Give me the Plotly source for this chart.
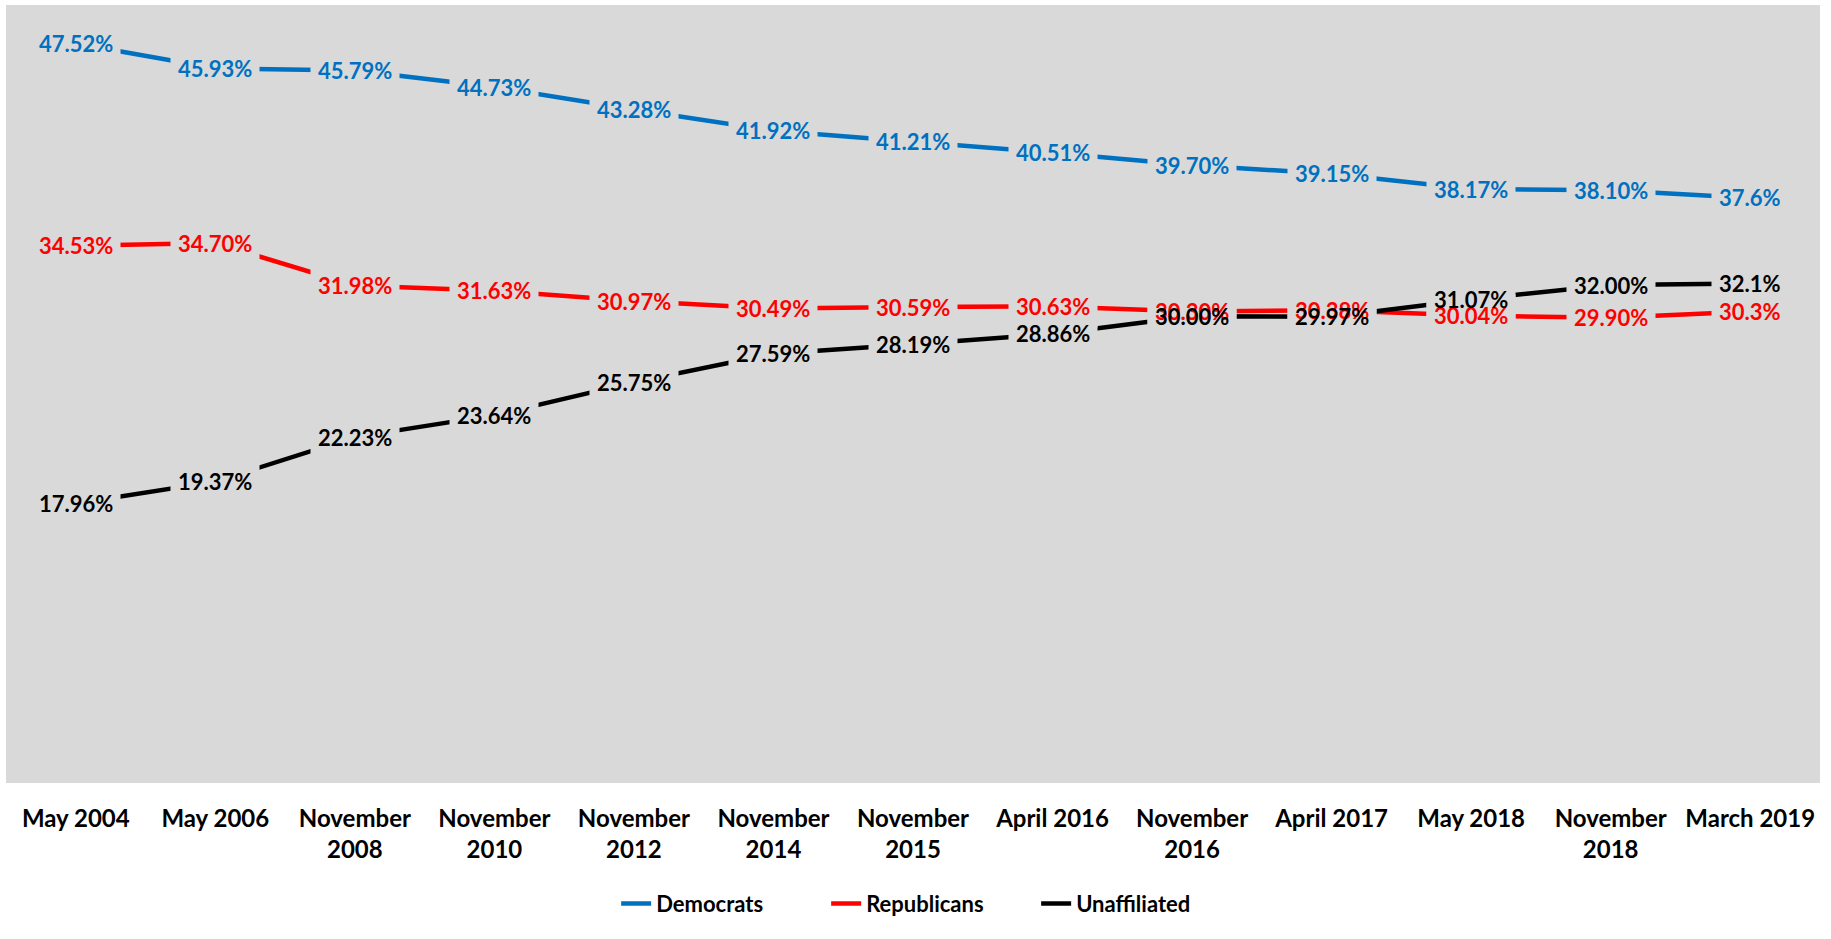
import plotly.graph_objects as go

categories = ["May 2004", "May 2006", "November<br>2008", "November<br>2010",
              "November<br>2012", "November<br>2014", "November<br>2015",
              "April 2016", "November<br>2016", "April 2017", "May 2018",
              "November<br>2018", "March 2019"]

democrats = [47.52, 45.93, 45.79, 44.73, 43.28, 41.92, 41.21, 40.51, 39.70, 39.15, 38.17, 38.10, 37.6]
republicans = [34.53, 34.70, 31.98, 31.63, 30.97, 30.49, 30.59, 30.63, 30.30, 30.38, 30.04, 29.90, 30.3]
unaffiliated = [17.96, 19.37, 22.23, 23.64, 25.75, 27.59, 28.19, 28.86, 30.00, 29.97, 31.07, 32.00, 32.1]
label_decimals = [2, 2, 2, 2, 2, 2, 2, 2, 2, 2, 2, 2, 1]

series = [
    ("Democrats", democrats, "#0070C0"),
    ("Republicans", republicans, "#FF0000"),
    ("Unaffiliated", unaffiliated, "#000000"),
]

BG = "#D9D9D9"
FONT = "Lato"

fig = go.Figure()
for name, vals, color in series:
    fig.add_trace(go.Scatter(
        x=categories, y=vals, mode="lines", name=name,
        line=dict(color=color, width=4.5),
        hoverinfo="skip",
    ))

annotations = []
# background pads to break the lines around labels
for name, vals, color in series:
    for c, v, d in zip(categories, vals, label_decimals):
        annotations.append(dict(
            x=c, y=v, xref="x", yref="y", text=f"{v:.{d}f}%",
            showarrow=False, bgcolor=BG, borderpad=7,
            font=dict(family=FONT, size=22, weight=700, color=BG),
            xanchor="center", yanchor="middle",
        ))
# label texts
for name, vals, color in series:
    for c, v, d in zip(categories, vals, label_decimals):
        annotations.append(dict(
            x=c, y=v, xref="x", yref="y", text=f"{v:.{d}f}%",
            showarrow=False, borderpad=7,
            font=dict(family=FONT, size=22, weight=700, color=color),
            xanchor="center", yanchor="middle",
        ))

fig.update_layout(
    width=1831, height=939,
    margin=dict(l=6, r=11, t=5, b=156),
    paper_bgcolor="white",
    plot_bgcolor=BG,
    annotations=annotations,
    showlegend=True,
    legend=dict(
        orientation="h", x=0.51, xanchor="center", y=-0.155, yanchor="middle",
        font=dict(family=FONT, size=22, weight=700, color="#000000"),
        bgcolor="rgba(0,0,0,0)",
        entrywidth=165, entrywidthmode="pixels",
    ),
    xaxis=dict(
        type="category", range=[-0.5, 12.5], showgrid=False, zeroline=False,
        showline=False, ticks="outside", ticklen=14, tickcolor="rgba(0,0,0,0)",
        tickfont=dict(family=FONT, size=24, weight=700, color="#000000"),
        fixedrange=True,
    ),
    yaxis=dict(
        range=[0, 50], showgrid=False, zeroline=False, showline=False,
        showticklabels=False, fixedrange=True,
    ),
)

fig.write_html("out.html", config={"displayModeBar": False},
               post_script="document.body.style.margin='0';")
